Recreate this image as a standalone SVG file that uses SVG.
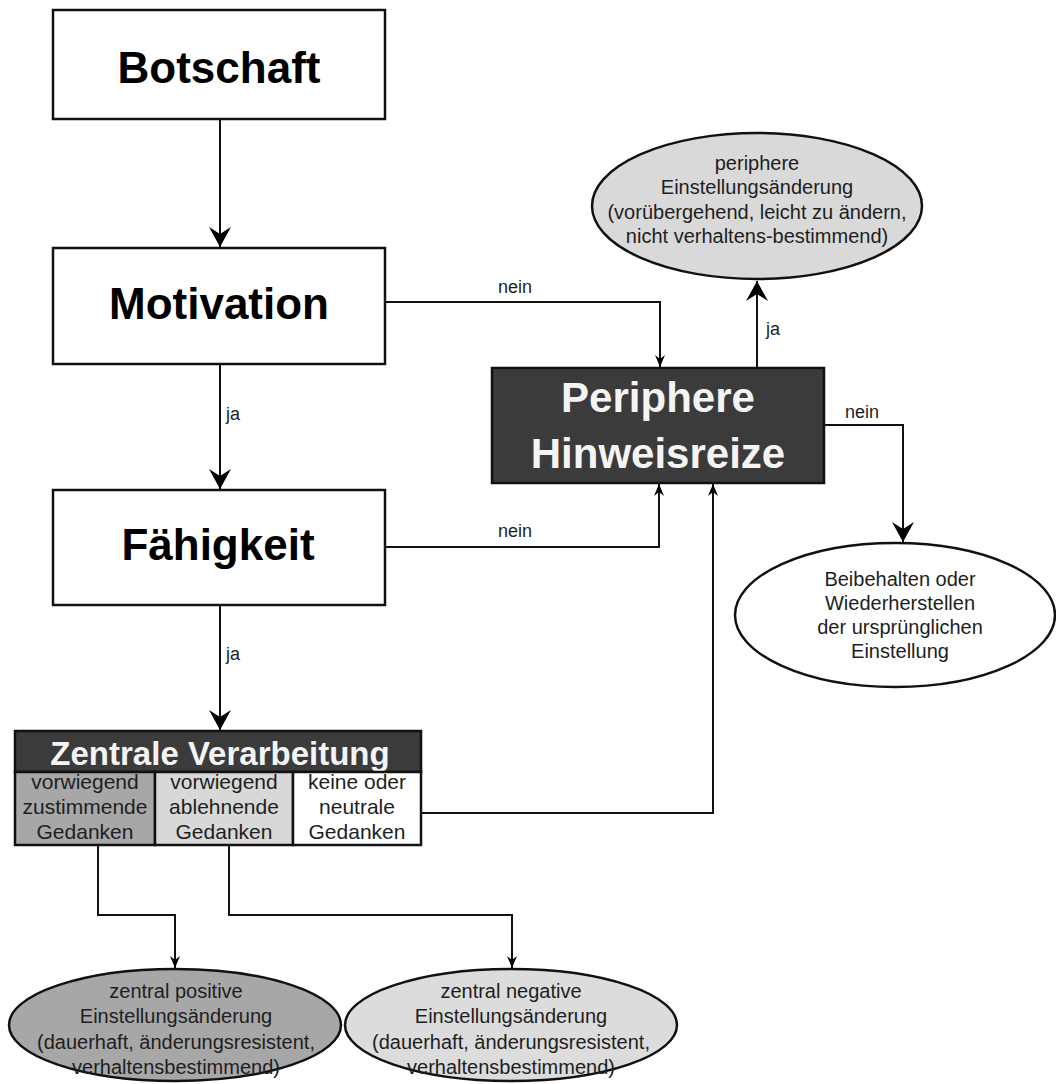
<svg xmlns="http://www.w3.org/2000/svg" width="1056" height="1084" viewBox="0 0 1056 1084">
<style>
text{font-family:"Liberation Sans",Arial,sans-serif;text-anchor:middle;fill:#1e1e1e}
.title{font-weight:bold;font-size:44px;fill:#000}
.wtitle{font-weight:bold;fill:#f4f4f4}
.box{fill:#fff;stroke:#111;stroke-width:2.5}
.dark{fill:#3b3b3b;stroke:#111;stroke-width:2.5}
.ell{stroke:#111;stroke-width:2.5}
.et{font-size:20px}
.ct{font-size:21px}
.lbl{font-size:18px;text-anchor:start}
.conn{fill:none;stroke:#111;stroke-width:2}
</style>
<defs>
<marker id="big" viewBox="-21 -12 22 24" refX="0" refY="0" markerWidth="22" markerHeight="24" markerUnits="userSpaceOnUse" orient="auto">
<path d="M0,0 L-20,-11 L-13,0 L-20,11 Z" fill="#000"/>
</marker>
<marker id="small" viewBox="-13 -6 14 12" refX="0" refY="0" markerWidth="14" markerHeight="12" markerUnits="userSpaceOnUse" orient="auto">
<path d="M0,0 L-12,-5 L-8,0 L-12,5 Z" fill="#000"/>
</marker>
</defs>
<rect width="1056" height="1084" fill="#fff"/>

<g id="connectors">
<path class="conn" d="M220,119 V247" marker-end="url(#big)"/>
<path class="conn" d="M220,364 V489" marker-end="url(#big)"/>
<path class="conn" d="M220,605 V730" marker-end="url(#big)"/>
<path class="conn" d="M757,368 V281" marker-end="url(#big)"/>
<path class="conn" d="M824,425 H903 V542" marker-end="url(#big)"/>
<path class="conn" d="M385,302 H660 V367" marker-end="url(#small)"/>
<path class="conn" d="M385,547 H659 V484" marker-end="url(#small)"/>
<path class="conn" d="M421,813 H713 V484" marker-end="url(#small)"/>
<path class="conn" d="M98,845 V915 H175 V968" marker-end="url(#small)"/>
<path class="conn" d="M229,845 V915 H512 V968" marker-end="url(#small)"/>
<text class="lbl" x="498" y="293">nein</text>
<text class="lbl" x="498" y="537">nein</text>
<text class="lbl" x="845" y="418">nein</text>
<text class="lbl" x="226" y="420">ja</text>
<text class="lbl" x="226" y="660">ja</text>
<text class="lbl" x="766" y="335">ja</text>
</g>

<g id="botschaft">
<rect class="box" x="53" y="10" width="332" height="109"/>
<text class="title" x="219" y="83">Botschaft</text>
</g>

<g id="motivation">
<rect class="box" x="53" y="248" width="332" height="116"/>
<text class="title" x="219" y="319">Motivation</text>
</g>

<g id="faehigkeit">
<rect class="box" x="53" y="490" width="332" height="115"/>
<text class="title" x="218" y="560">Fähigkeit</text>
</g>

<g id="periphere-hinweisreize">
<rect class="dark" x="492" y="368" width="332" height="115"/>
<text class="wtitle" x="658" y="412" font-size="42">Periphere</text>
<text class="wtitle" x="658" y="468" font-size="42">Hinweisreize</text>
</g>

<g id="zentrale-verarbeitung">
<rect class="dark" x="15" y="731" width="406" height="41"/>
<text class="wtitle" x="220" y="765" font-size="33">Zentrale Verarbeitung</text>
<rect x="15" y="772" width="140" height="73" fill="#a7a7a7" stroke="#111" stroke-width="2.5"/>
<rect x="155" y="772" width="138" height="73" fill="#d8d8d8" stroke="#111" stroke-width="2.5"/>
<rect x="293" y="772" width="128" height="73" fill="#fff" stroke="#111" stroke-width="2.5"/>
<text class="ct" x="85" y="789">vorwiegend</text>
<text class="ct" x="85" y="814">zustimmende</text>
<text class="ct" x="85" y="839">Gedanken</text>
<text class="ct" x="224" y="789">vorwiegend</text>
<text class="ct" x="224" y="814">ablehnende</text>
<text class="ct" x="224" y="839">Gedanken</text>
<text class="ct" x="357" y="789">keine oder</text>
<text class="ct" x="357" y="814">neutrale</text>
<text class="ct" x="357" y="839">Gedanken</text>
</g>

<g id="periphere-einstellungsaenderung">
<ellipse class="ell" cx="757" cy="206" rx="165" ry="73" fill="#d9d9d9"/>
<text class="et" x="757" y="170">periphere</text>
<text class="et" x="757" y="194">Einstellungsänderung</text>
<text class="et" x="757" y="219">(vorübergehend, leicht zu ändern,</text>
<text class="et" x="757" y="243">nicht verhaltens-bestimmend)</text>
</g>

<g id="beibehalten">
<ellipse class="ell" cx="895" cy="615" rx="160" ry="72" fill="#fff"/>
<text class="et" x="900" y="586">Beibehalten oder</text>
<text class="et" x="900" y="610">Wiederherstellen</text>
<text class="et" x="900" y="634">der ursprünglichen</text>
<text class="et" x="900" y="658">Einstellung</text>
</g>

<g id="zentral-positiv">
<ellipse class="ell" cx="175" cy="1025" rx="166" ry="56" fill="#a7a7a7"/>
<text class="et" x="176" y="998">zentral positive</text>
<text class="et" x="176" y="1023">Einstellungsänderung</text>
<text class="et" x="176" y="1049">(dauerhaft, änderungsresistent,</text>
<text class="et" x="176" y="1074">verhaltensbestimmend)</text>
</g>

<g id="zentral-negativ">
<ellipse class="ell" cx="511" cy="1025" rx="166" ry="56" fill="#dcdcdc"/>
<text class="et" x="511" y="998">zentral negative</text>
<text class="et" x="511" y="1023">Einstellungsänderung</text>
<text class="et" x="511" y="1049">(dauerhaft, änderungsresistent,</text>
<text class="et" x="511" y="1074">verhaltensbestimmend)</text>
</g>
</svg>
